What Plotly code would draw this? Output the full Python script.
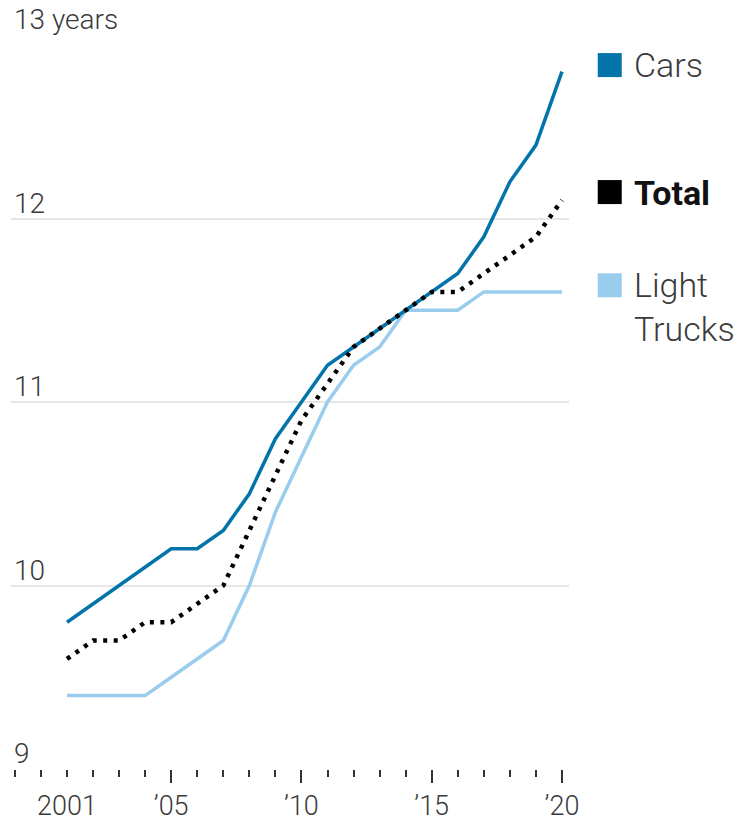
import plotly.graph_objects as go

# Average age of vehicles on US roads, by year
years = list(range(2001, 2021))
cars = [9.8, 9.9, 10.0, 10.1, 10.2, 10.2, 10.3, 10.5, 10.8, 11.0,
        11.2, 11.3, 11.4, 11.5, 11.6, 11.7, 11.9, 12.2, 12.4, 12.8]
light_trucks = [9.4, 9.4, 9.4, 9.4, 9.5, 9.6, 9.7, 10.0, 10.4, 10.7,
                11.0, 11.2, 11.3, 11.5, 11.5, 11.5, 11.6, 11.6, 11.6, 11.6]
total = [9.6, 9.7, 9.7, 9.8, 9.8, 9.9, 10.0, 10.3, 10.6, 10.9,
         11.1, 11.3, 11.4, 11.5, 11.6, 11.6, 11.7, 11.8, 11.9, 12.1]

y_ticks = [9, 10, 11, 12, 13]
y_labels = ["9", "10", "11", "12", "13 years"]
x_ticks = [2005, 2010, 2015, 2020]
x_labels = ["\u201905", "\u201910", "\u201915", "\u201920"]

CARS_BLUE = "#0274a9"
TRUCK_BLUE = "#9accee"
FONT = "Roboto, sans-serif"
TEXT = "#3a3a3a"

fig = go.Figure()
fig.add_trace(go.Scatter(x=years, y=light_trucks, mode="lines", name="Light Trucks",
                         line={"color": TRUCK_BLUE, "width": 3.5}))
fig.add_trace(go.Scatter(x=years, y=cars, mode="lines", name="Cars",
                         line={"color": CARS_BLUE, "width": 3.5}))
fig.add_trace(go.Scatter(x=years, y=total, mode="lines", name="Total",
                         line={"color": "#000000", "width": 4.5, "dash": "4px,6.5px"}))

# y labels sit above the gridlines, flush left
for val, label in zip(y_ticks, y_labels):
    fig.add_annotation(x=0, xref="paper", xanchor="left", xshift=1,
                       y=val, yref="y", yanchor="bottom", yshift=-3,
                       text=label, showarrow=False,
                       font={"family": FONT, "size": 28, "color": TEXT, "weight": 300})

# first year label (its tick is a short one)
fig.add_annotation(x=years[0], xref="x", y=0, yref="paper", yanchor="top", yshift=-21,
                   text=str(years[0]), showarrow=False, borderpad=0, borderwidth=0,
                   font={"family": FONT, "size": 27, "color": TEXT, "weight": 300})

# hand-built legend on the right
legend_items = [("Cars", CARS_BLUE, 0.959, 0.959, 300),
                ("Light<br>Trucks", TRUCK_BLUE, 0.659, 0.630, 300),
                ("<b>Total</b>", "#000000", 0.786, 0.785, 700)]
for text, color, sq_y, txt_y, weight in legend_items:
    fig.add_shape(type="rect", xref="paper", yref="paper",
                  xsizemode="pixel", ysizemode="pixel",
                  xanchor=1.073, yanchor=sq_y, x0=-12, x1=12, y0=-12, y1=12,
                  fillcolor=color, line={"width": 0})
    fig.add_annotation(x=1.113, xref="paper", xanchor="left",
                       y=txt_y, yref="paper", yanchor="middle",
                       text=text, showarrow=False, align="left",
                       font={"family": FONT, "size": 34, "weight": weight,
                             "color": "#111111" if weight > 400 else TEXT})

fig.update_layout(
    width=743, height=822,
    margin={"l": 11, "r": 174, "t": 35, "b": 53},
    paper_bgcolor="white", plot_bgcolor="white",
    showlegend=False,
    font={"family": FONT, "size": 27, "color": TEXT},
)
fig.update_xaxes(
    range=[1998.85, 2020.27], automargin=False,
    tickmode="array", tickvals=x_ticks, ticktext=x_labels,
    ticks="outside", ticklen=13, tickwidth=2, tickcolor="#333333",
    showgrid=False, zeroline=False, showline=False,
    tickfont={"family": FONT, "size": 27, "color": TEXT, "weight": 300},
    minor={"ticks": "outside", "ticklen": 7, "tickwidth": 2, "tickcolor": "#333333",
           "tick0": 2001, "dtick": 1, "showgrid": False},
)
fig.update_yaxes(
    range=[9, 13], tickvals=y_ticks, showticklabels=False, automargin=False,
    showgrid=True, gridcolor="#e6e6e6", gridwidth=2,
    zeroline=False, showline=False, ticks="",
)

# pin the figure to the window corner so the page is exactly the figure
pin = ("document.body.style.margin='0';"
       "var gd=document.getElementById('{plot_id}');"
       "gd.style.position='fixed';gd.style.top='0';gd.style.left='0';")
fig.write_html("out.html", config={"displayModeBar": False}, post_script=pin)
